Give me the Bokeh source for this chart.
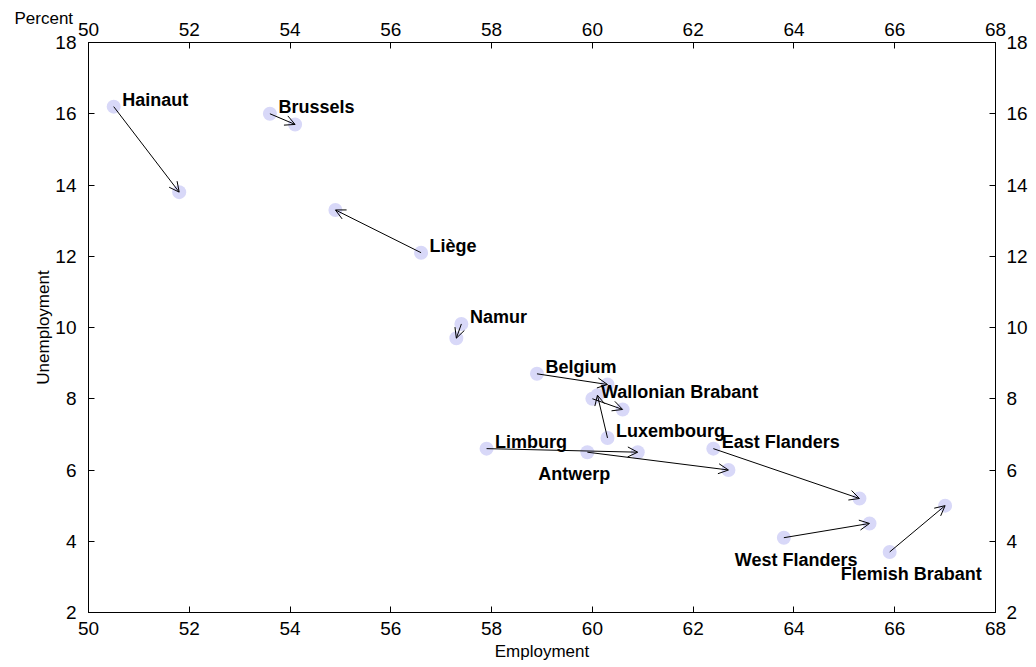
import math
from bokeh.plotting import figure
from bokeh.models import ColumnDataSource, Arrow, OpenHead, LinearAxis, FixedTicker, Range1d, Title
from bokeh.core.properties import value
from bokeh.embed import file_html
from bokeh.resources import INLINE

regions = ["Hainaut", "Brussels", "Liège", "Namur", "Belgium", "Wallonian Brabant",
           "Luxembourg", "Limburg", "Antwerp", "East Flanders", "West Flanders", "Flemish Brabant"]
emp_start = [50.5, 53.6, 56.6, 57.4, 58.9, 60.0, 60.3, 57.9, 59.9, 62.4, 63.8, 65.9]
unemp_start = [16.2, 16.0, 12.1, 10.1, 8.7, 8.0, 6.9, 6.6, 6.5, 6.6, 4.1, 3.7]
emp_end = [51.8, 54.1, 54.9, 57.3, 60.3, 60.6, 60.1, 60.9, 62.7, 65.3, 65.5, 67.0]
unemp_end = [13.8, 15.7, 13.3, 9.7, 8.4, 7.7, 8.1, 6.5, 6.0, 5.2, 4.5, 5.0]
label_below = [False, False, False, False, False, False, False, False, True, False, True, True]

x_ticks = [50, 52, 54, 56, 58, 60, 62, 64, 66, 68]
y_ticks = [2, 4, 6, 8, 10, 12, 14, 16, 18]

FONT = "Liberation Sans"

p = figure(width=1036, height=667, output_backend="svg", toolbar_location=None,
           x_range=Range1d(50, 68), y_range=Range1d(2, 18),
           min_border_left=88, min_border_right=41, min_border_top=42, min_border_bottom=55,
           x_axis_location=None, y_axis_location=None)
p.xgrid.visible = False
p.ygrid.visible = False
p.outline_line_color = "black"
p.outline_line_width = 1
p.background_fill_color = "white"
p.border_fill_color = "white"


def style_axis(ax, ticks, standoff):
    ax.ticker = FixedTicker(ticks=ticks)
    ax.major_tick_in = 6
    ax.major_tick_out = 0
    ax.minor_tick_line_color = None
    ax.axis_line_color = "black"
    ax.major_tick_line_color = "black"
    ax.major_label_text_font = FONT
    ax.major_label_text_font_size = "19px"
    ax.major_label_text_color = "black"
    ax.major_label_standoff = standoff


bottom = LinearAxis(axis_label="Employment")
style_axis(bottom, x_ticks, 9)
bottom.axis_label_text_font = FONT
bottom.axis_label_text_font_size = "17px"
bottom.axis_label_text_font_style = "normal"
bottom.axis_label_text_color = "black"
bottom.axis_label_standoff = 4
p.add_layout(bottom, "below")

top = LinearAxis()
style_axis(top, x_ticks, 7)
p.add_layout(top, "above")

left = LinearAxis()
style_axis(left, y_ticks, 12)
p.add_layout(left, "left")

right = LinearAxis()
style_axis(right, y_ticks, 11)
p.add_layout(right, "right")

p.add_layout(Title(text="Unemployment", align="center", offset=70, standoff=0,
                   text_font=FONT, text_font_size="17px", text_font_style="normal",
                   text_color="black"), "left")
p.add_layout(Title(text="Percent", align="left", offset=-74, standoff=-16,
                   text_font=FONT, text_font_size="17px", text_font_style="normal",
                   text_color="black"), "above")

src = ColumnDataSource(dict(
    name=regions, x0=emp_start, y0=unemp_start, x1=emp_end, y1=unemp_end,
    xo=[-49 if b else 8.5 for b in label_below],
    yo=[22 if b else -6.5 for b in label_below],
))

p.scatter("x0", "y0", source=src, size=14, fill_color="#d8d8f8", line_color=None)
p.scatter("x1", "y1", source=src, size=14, fill_color="#d8d8f8", line_color=None)

p.add_layout(Arrow(end=OpenHead(size=10, line_color="black", line_width=1),
                   x_start="x0", y_start="y0", x_end="x1", y_end="y1",
                   source=src, line_color="black", line_width=1))

p.text("x0", "y0", text="name", source=src, x_offset="xo", y_offset="yo",
       text_font=value(FONT), text_font_style="bold", text_font_size="18px",
       text_color="black", text_align="left", text_baseline="alphabetic")

open("out.html", "w").write(file_html(p, INLINE))
